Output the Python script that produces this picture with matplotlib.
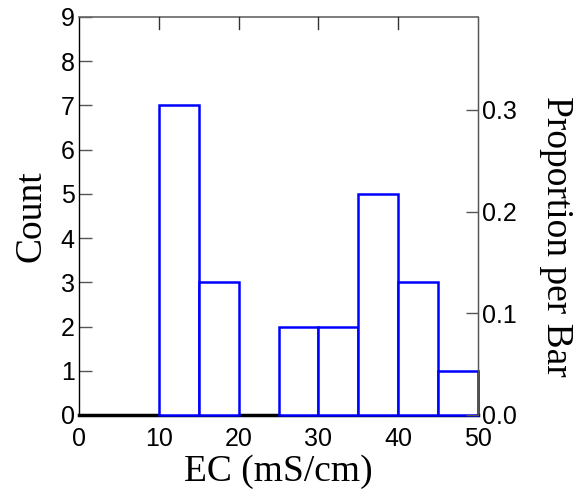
import numpy as np
import matplotlib
matplotlib.use("Agg")
import matplotlib.pyplot as plt

# histogram data
bin_edges = [0, 5, 10, 15, 20, 25, 30, 35, 40, 45, 50]
counts = [0, 0, 7, 3, 0, 2, 2, 5, 3, 1]
total = sum(counts)

x_ticks = [0, 10, 20, 30, 40, 50]
y_ticks = [0, 1, 2, 3, 4, 5, 6, 7, 8, 9]
prop_ticks = [0.0, 0.1, 0.2, 0.3]

sans = "Liberation Sans"
serif = "Liberation Serif"

fig = plt.figure(figsize=(5.79, 5.0), dpi=100)
ax = fig.add_axes([79/579, 85/500, 399/579, 398/500])

lefts = np.array(bin_edges[:-1])
widths = np.diff(bin_edges)
for l, w, c in zip(lefts, widths, counts):
    if c > 0:
        ax.bar(l, c, width=w, align='edge', facecolor='white',
               edgecolor='#0000ff', linewidth=1.8, zorder=3, clip_on=False)

ax.set_xlim(0, 50)
ax.set_ylim(0, 9)
ax.set_xticks(x_ticks)
ax.set_yticks(y_ticks)
ax.set_xticklabels([str(t) for t in x_ticks], fontfamily=sans, fontsize=18)
ax.set_yticklabels([str(t) for t in y_ticks], fontfamily=sans, fontsize=18)

ax.tick_params(axis='y', direction='in', length=9, width=1, color='#555555', pad=3)
ax.tick_params(axis='x', direction='in', length=0, pad=9)
# short inward ticks hanging from the top frame
for t in [10, 20, 30, 40]:
    ax.plot([t, t], [9, 9 - 0.27], color='#333333', lw=1.0, clip_on=False, zorder=4)

ax.spines['left'].set_color('black')
ax.spines['left'].set_linewidth(1.0)
ax.spines['top'].set_color('#666666')
ax.spines['top'].set_linewidth(1.2)
ax.spines['right'].set_color('#555555')
ax.spines['right'].set_linewidth(1.0)
ax.spines['bottom'].set_color('black')
ax.spines['bottom'].set_linewidth(2.5)
ax.spines['bottom'].set_zorder(2)

ax.set_xlabel('EC (mS/cm)', fontfamily=serif, fontsize=27, labelpad=2)
ax.set_ylabel('Count', fontfamily=serif, fontsize=27, labelpad=9)

ax2 = ax.twinx()
ax2.set_ylim(0, 9 / total)
ax2.set_yticks(prop_ticks)
ax2.set_yticklabels(['%.1f' % p for p in prop_ticks], fontfamily=sans, fontsize=18)
ax2.tick_params(axis='y', direction='in', length=9, width=1, color='#555555', pad=3)
for s in ['left', 'top', 'bottom']:
    ax2.spines[s].set_visible(False)
ax2.spines['right'].set_color('#555555')
ax2.set_ylabel('Proportion per Bar', fontfamily=serif, fontsize=27, rotation=270)
ax2.yaxis.label.set_va('center')
ax2.yaxis.label.set_ha('center')
ax2.yaxis.set_label_coords(1.195, 0.45)

fig.savefig('out.png', dpi=100)
